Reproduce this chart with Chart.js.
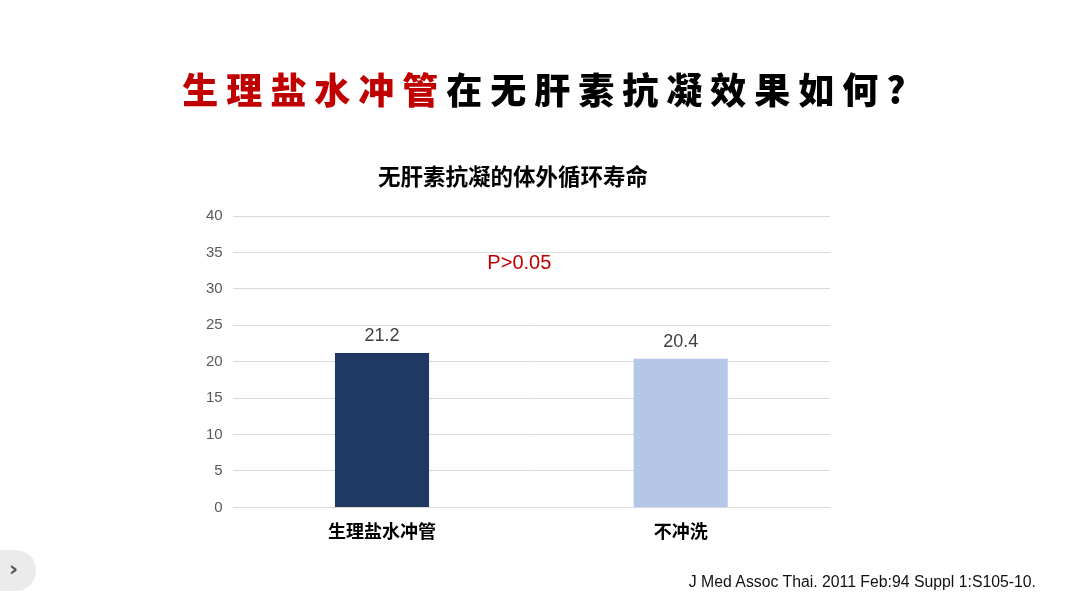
<!DOCTYPE html>
<html>
<head>
<meta charset="utf-8">
<script src="https://cdn.jsdelivr.net/npm/chart.js@4"></script>
<style>
  html, body { margin: 0; padding: 0; background: #fff; }
  #wrap { position: relative; width: 1080px; height: 608px; overflow: hidden; }
  #grafico { position: absolute; left: 0; top: 0; }
  #titulo {
    position: absolute; left: 0; top: 60px; width: 1096px; text-align: center;
    font-family: "Noto Sans CJK SC"; font-weight: 900; font-size: 36px;
    letter-spacing: 8px; line-height: 56px; color: #000;
  }
  #titulo span { color: #c00000; }
  #fonte {
    position: absolute; right: 44px; top: 573px;
    font-family: "Liberation Sans", Arial, sans-serif; font-size: 15.8px; color: #111;
  }
  #botao {
    position: absolute; left: 0; top: 550px; width: 36px; height: 41px;
    background: #ebebeb; border-radius: 0 20px 20px 0;
    font-family: "DejaVu Sans"; font-weight: bold; font-size: 22px; color: #555;
    line-height: 38px; text-indent: 9px;
  }
</style>
</head>
<body>
<div id="wrap">
  <canvas id="grafico" width="1080" height="608"></canvas>
  <div id="titulo"><span>生理盐水冲管</span>在无肝素抗凝效果如何?</div>
  <div id="botao">›</div>
  <div id="fonte">J Med Assoc Thai. 2011 Feb:94 Suppl 1:S105-10.</div>
</div>
<script>
const categorias = ["生理盐水冲管", "不冲洗"];
const valores = [21.2, 20.4];
const cores = ["#203864", "#b4c7e7"];
const tituloGrafico = "无肝素抗凝的体外循环寿命";
const textoP = "P>0.05";

// rotulos em cima das barras + texto do p
const rotulos = {
  id: "rotulos",
  afterDatasetsDraw(chart) {
    const ctx = chart.ctx;
    const meta = chart.getDatasetMeta(0);
    ctx.save();
    ctx.font = "18px 'Liberation Sans', Arial";
    ctx.fillStyle = "#404040";
    ctx.textAlign = "center";
    ctx.textBaseline = "middle";
    meta.data.forEach((barra, i) => {
      ctx.fillText(valores[i].toFixed(1), barra.x, barra.y - 17);
    });
    const x = chart.scales.x;
    const y = chart.scales.y;
    ctx.font = "20px 'Liberation Sans', Arial";
    ctx.fillStyle = "#c00000";
    ctx.fillText(textoP, (x.getPixelForValue(0) + x.getPixelForValue(1)) / 2 - 12, y.getPixelForValue(33.5));
    ctx.restore();
  },
};

const grafico = new Chart(document.getElementById("grafico"), {
  type: "bar",
  data: {
    labels: categorias,
    datasets: [
      {
        data: valores,
        backgroundColor: cores,
        barPercentage: 0.63,
        categoryPercentage: 0.5,
      },
    ],
  },
  options: {
    responsive: false,
    animation: false,
    layout: { padding: { left: 196, right: 250, top: 163, bottom: 61 } },
    plugins: {
      legend: { display: false },
      tooltip: { enabled: false },
      title: {
        display: true,
        text: tituloGrafico,
        color: "#000",
        font: { family: "'Noto Sans CJK SC'", size: 22.5, weight: "bold" },
        padding: { top: 0, bottom: 26 },
      },
    },
    scales: {
      x: {
        grid: { display: false },
        border: { display: false },
        ticks: {
          color: "#000",
          padding: 5,
          font: { family: "'Noto Sans CJK SC'", size: 18, weight: "bold" },
        },
      },
      y: {
        min: 0,
        max: 40,
        ticks: {
          stepSize: 5,
          color: "#595959",
          padding: 10,
          font: { family: "'Liberation Sans', Arial", size: 15 },
        },
        grid: { color: "#d9d9d9", drawTicks: false },
        border: { display: false },
      },
    },
  },
  plugins: [rotulos],
});
</script>
</body>
</html>
